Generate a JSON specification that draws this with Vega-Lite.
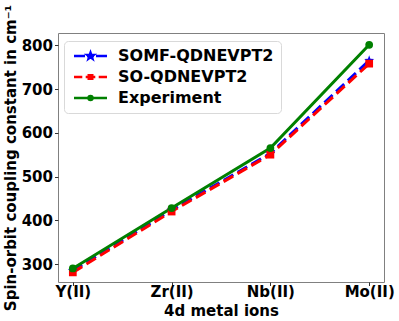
{
  "$schema": "https://vega.github.io/schema/vega-lite/v6.json",
  "width": 326,
  "height": 249,
  "autosize": "none",
  "padding": {"left": 58, "top": 33, "right": 15, "bottom": 39},
  "config": {
    "font": "DejaVu Sans",
    "view": {"stroke": "#808080", "strokeWidth": 1},
    "axis": {
      "labelFont": "DejaVu Sans", "labelFontWeight": "bold", "labelFontSize": 15, "labelColor": "black",
      "titleFont": "DejaVu Sans", "titleFontWeight": "bold", "titleColor": "black",
      "domain": false, "grid": false, "tickColor": "#333", "tickSize": 3.5, "tickWidth": 1
    }
  },
  "data": {"values": [
    {"ion": "Y(II)", "method": "SOMF-QDNEVPT2", "value": 285},
    {"ion": "Zr(II)", "method": "SOMF-QDNEVPT2", "value": 423},
    {"ion": "Nb(II)", "method": "SOMF-QDNEVPT2", "value": 553},
    {"ion": "Mo(II)", "method": "SOMF-QDNEVPT2", "value": 765},
    {"ion": "Y(II)", "method": "SO-QDNEVPT2", "value": 281},
    {"ion": "Zr(II)", "method": "SO-QDNEVPT2", "value": 420},
    {"ion": "Nb(II)", "method": "SO-QDNEVPT2", "value": 550},
    {"ion": "Mo(II)", "method": "SO-QDNEVPT2", "value": 758},
    {"ion": "Y(II)", "method": "Experiment", "value": 290},
    {"ion": "Zr(II)", "method": "Experiment", "value": 428},
    {"ion": "Nb(II)", "method": "Experiment", "value": 565},
    {"ion": "Mo(II)", "method": "Experiment", "value": 801}
  ]},
  "encoding": {
    "x": {"field": "ion", "type": "ordinal", "sort": null,
      "scale": {"type": "point", "padding": 0.15},
      "axis": {"title": "4d metal ions", "labelAngle": 0, "titleFontSize": 15, "labelPadding": -1, "labelBaseline": "top", "titleBaseline": "alphabetic", "titleY": 33}},
    "y": {"field": "value", "type": "quantitative",
      "scale": {"domain": [259, 828], "nice": false, "zero": false},
      "axis": {"title": "Spin-orbit coupling constant in cm⁻¹", "values": [300, 400, 500, 600, 700, 800], "titleFontSize": 15, "labelPadding": 2, "titlePadding": 3}},
    "color": {"field": "method", "type": "nominal",
      "scale": {"domain": ["SOMF-QDNEVPT2", "SO-QDNEVPT2", "Experiment"], "range": ["#0000ff", "#ff0000", "#008000"]},
      "legend": {
        "title": null, "orient": "none", "legendX": 6, "legendY": 8,
        "labelFont": "DejaVu Sans", "labelFontWeight": "bold", "labelFontSize": 16, "labelColor": "black",
        "labelOffset": 31, "padding": 7, "rowPadding": 5,
        "strokeColor": "#d9d9d9", "fillColor": "rgba(255,255,255,0.8)", "cornerRadius": 4,
        "encode": {"symbols": {"update": {
          "shape": {"signal": "datum.value === 'SOMF-QDNEVPT2' ? 'M-1,0H1.2 M1.6,0H3 M3.4,0H5.6 M2.3,-0.65 L2.453,-0.211 L2.918,-0.201 L2.547,0.081 L2.682,0.526 L2.3,0.26 L1.918,0.526 L2.053,0.081 L1.682,-0.201 L2.147,-0.211 Z' : datum.value === 'SO-QDNEVPT2' ? 'M-1,0H0.66 M1.34,0H3.26 M3.94,0H5.6 M1.95,-0.35H2.65V0.35H1.95Z' : 'M-1,0H5.6 M2.7,0 A0.4,0.4 0 1,1 1.9,0 A0.4,0.4 0 1,1 2.7,0 Z'"},
          "size": {"value": 100},
          "fill": {"signal": "datum.value === 'SOMF-QDNEVPT2' ? '#0000ff' : datum.value === 'SO-QDNEVPT2' ? '#ff0000' : '#008000'"},
          "stroke": {"signal": "datum.value === 'SOMF-QDNEVPT2' ? '#0000ff' : datum.value === 'SO-QDNEVPT2' ? '#ff0000' : '#008000'"},
          "strokeWidth": {"value": 2.5},
          "strokeDash": {"value": []},
          "opacity": {"value": 1}
        }}}
      }}
  },
  "layer": [
    {
      "transform": [{"filter": "datum.method === 'SOMF-QDNEVPT2'"}],
      "mark": {"type": "line", "strokeWidth": 3, "strokeDash": [11, 5]},
      "encoding": {}
    },
    {
      "transform": [{"filter": "datum.method === 'SO-QDNEVPT2'"}],
      "mark": {"type": "line", "strokeWidth": 3, "strokeDash": [11, 5]},
      "encoding": {}
    },
    {
      "transform": [{"filter": "datum.method === 'Experiment'"}],
      "mark": {"type": "line", "strokeWidth": 3},
      "encoding": {}
    },
    {
      "transform": [{"filter": "datum.method === 'SOMF-QDNEVPT2'"}],
      "mark": {"type": "point", "filled": true, "opacity": 1, "size": 110, "shape": "M0,-1 L0.235,-0.324 L0.951,-0.309 L0.38,0.124 L0.588,0.809 L0,0.4 L-0.588,0.809 L-0.38,0.124 L-0.951,-0.309 L-0.235,-0.324 Z"},
      "encoding": {}
    },
    {
      "transform": [{"filter": "datum.method === 'SO-QDNEVPT2'"}],
      "mark": {"type": "point", "filled": true, "opacity": 1, "size": 60, "shape": "square"},
      "encoding": {}
    },
    {
      "transform": [{"filter": "datum.method === 'Experiment'"}],
      "mark": {"type": "point", "filled": true, "opacity": 1, "size": 60, "shape": "circle"},
      "encoding": {}
    }
  ]
}
